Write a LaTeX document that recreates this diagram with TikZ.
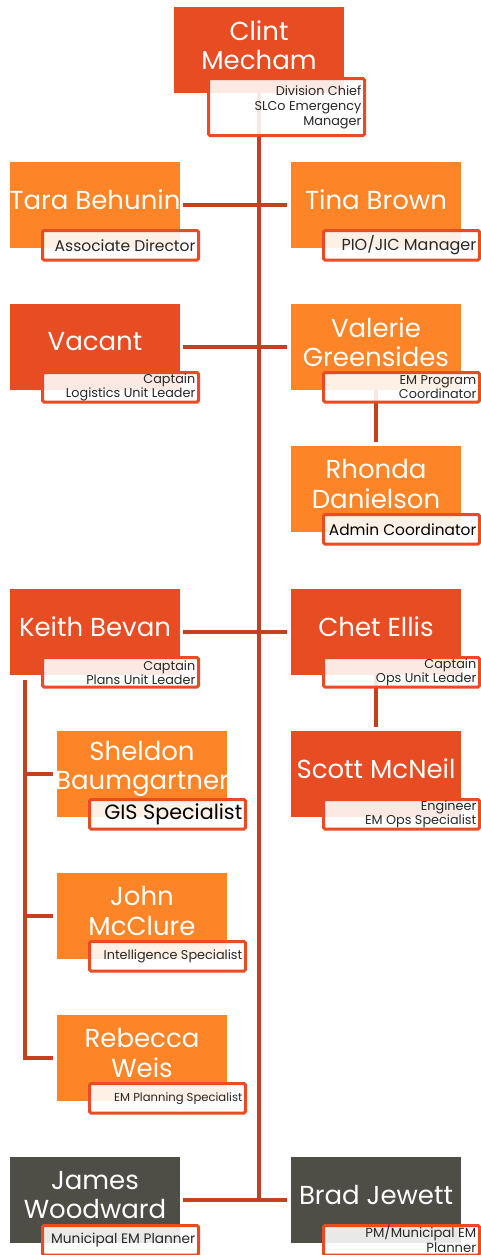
\documentclass[tikz,border=0pt]{standalone}
\usepackage{fontspec}
\setmainfont{Poppins}
\usetikzlibrary{calc}
\pgfdeclarelayer{bg}
\pgfsetlayers{bg,main}

\definecolor{rust}{RGB}{232,76,34}
\definecolor{amber}{RGB}{253,132,39}
\definecolor{slate}{RGB}{79,78,70}
\definecolor{linkred}{RGB}{197,64,30}
\definecolor{captxt}{RGB}{40,40,40}

\tikzset{
  mainbox/.style={anchor=north west, minimum width=170pt, minimum height=86pt,
    inner sep=0pt, outer sep=0pt},
  nametext/.style={text=white, align=center, inner sep=0pt,
    font=\fontsize{26}{29.5}\selectfont},
  titlebox/.style={anchor=north west, draw=rust, line width=3pt, fill=white,
    fill opacity=0.88, rounded corners=1.5pt, outer sep=0pt, inner sep=0pt,
    minimum width=156pt, minimum height=29.5pt},
  titletext/.style={anchor=east, align=right, inner sep=0pt, text=captxt,
    font=\fontsize{12.8}{14}\selectfont},
  link/.style={draw=linkred, line width=3.5pt},
}

% id, x, y (top), fill colour, name, title, title-box keys, title-text keys
\newcommand\orgunit[8]{%
  \node[mainbox, fill=#4] (#1) at (#2,-#3) {};
  \node[nametext] (#1-name) at ([yshift=5pt]#1.center) {#5};
  \node[titlebox, #7] (#1-title) at ([xshift=32.5pt,yshift=17.5pt]#1.south west) {};
  \node[titletext, #8] (#1-role) at ([xshift=-3pt]#1-title.east) {#6};
}

\begin{document}
\begin{tikzpicture}[x=1pt, y=1pt]
  \useasboundingbox (0,0) rectangle (481,-1255);

  \orgunit{clint}{174}{7}{rust}{Clint\\Mecham}
    {Division Chief\\SLCo Emergency\\Manager}
    {minimum height=57pt, xshift=2pt, yshift=-3pt}{font=\fontsize{12.8}{15}\selectfont}
  \orgunit{tara}{10}{162}{amber}{Tara Behunin}{Associate Director}
    {}{font=\fontsize{15.5}{18}\selectfont}
  \orgunit{tina}{291}{162}{amber}{Tina Brown}{PIO/JIC Manager}
    {}{font=\fontsize{16}{18}\selectfont}
  \orgunit{vacant}{10}{304}{rust}{Vacant}{Captain\\Logistics Unit Leader}{}{}
  \orgunit{valerie}{291}{304}{amber}{Valerie\\Greensides}{EM Program\\Coordinator}{}{}
  \orgunit{rhonda}{291}{446}{amber}{Rhonda\\Danielson}{Admin Coordinator}
    {}{text=black, font=\fontsize{15.4}{18}\selectfont}
  \orgunit{keith}{10}{589}{rust}{Keith Bevan}{Captain\\Plans Unit Leader}{}{}
  \orgunit{chet}{291}{589}{rust}{Chet Ellis}{Captain\\Ops Unit Leader}{}{}
  \orgunit{scott}{291}{731}{rust}{Scott McNeil}{Engineer\\EM Ops Specialist}{}{}
  \orgunit{sheldon}{57}{731}{amber}{Sheldon\\Baumgartner}{GIS Specialist}
    {}{text=black, font=\fontsize{20.7}{22}\selectfont}
  \orgunit{john}{57}{873}{amber}{John\\McClure}{Intelligence Specialist}{}{}
  \orgunit{rebecca}{57}{1015}{amber}{Rebecca\\Weis}{EM Planning Specialist}
    {}{font=\fontsize{11.6}{14}\selectfont}
  \orgunit{james}{10}{1157}{slate}{James\\Woodward}{Municipal EM Planner}
    {}{font=\fontsize{13.7}{15}\selectfont}
  \orgunit{brad}{291}{1157}{slate}{Brad Jewett}{PM/Municipal EM\\Planner}
    {}{yshift=1.5pt, font=\fontsize{13.2}{14.5}\selectfont}

  \begin{pgfonlayer}{bg}
    % main spine and the paired links across it
    \draw[link] (clint.south) -- ($(clint.south |- james.east)+(0,-1.75)$);
    \draw[link] ([xshift=3pt]tara.east) -- ([xshift=-4pt]tina.west);
    \draw[link] ([xshift=3pt]vacant.east) -- ([xshift=-4pt]valerie.west);
    \draw[link] ([xshift=3pt]keith.east) -- ([xshift=-4pt]chet.west);
    \draw[link] ([xshift=3pt]james.east) -- ([xshift=-4pt]brad.west);
    % direct reports below
    \draw[link] (valerie.south) -- ([yshift=4pt]rhonda.north);
    \draw[link] (chet.south) -- ([yshift=4pt]scott.north);
    % plans unit bracket
    \coordinate (kb) at ($(keith.south west)+(15,-5)$);
    \draw[link] (kb) |- ([xshift=-4pt]rebecca.west);
    \draw[link] (kb |- sheldon.west) -- ([xshift=-4pt]sheldon.west);
    \draw[link] (kb |- john.west) -- ([xshift=-4pt]john.west);
  \end{pgfonlayer}
\end{tikzpicture}
\end{document}
